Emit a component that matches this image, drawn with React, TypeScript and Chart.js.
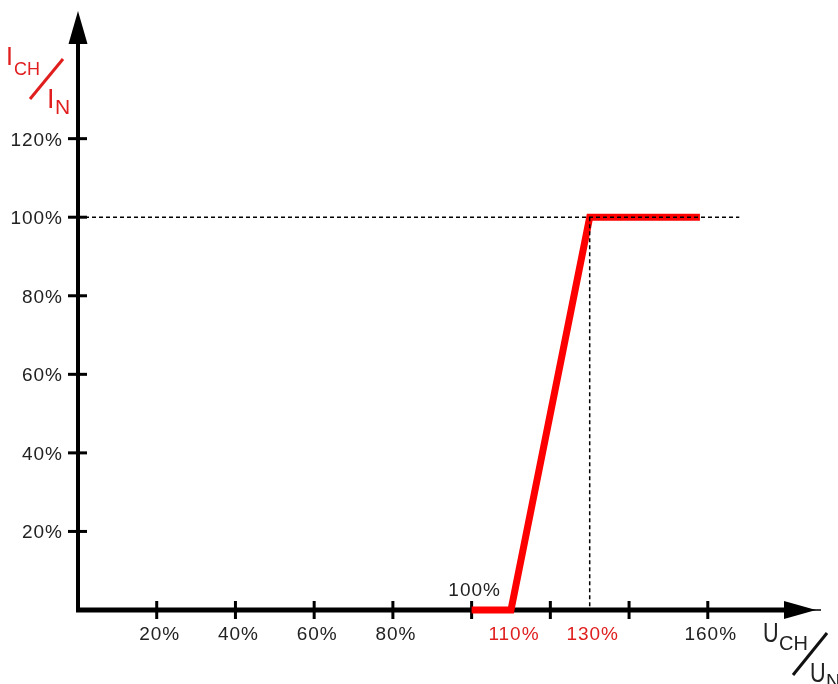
import React, { useEffect, useRef } from "react";
import { Chart, registerables } from "chart.js";

Chart.register(...registerables);

// ---- data ----
const X_MAX = 188;
const Y_MAX = 152.5;
const xTickValues = [20, 40, 60, 80, 100, 120, 140, 160];
const xLabelValues = [20, 40, 60, 80, 110, 130, 160];
const xLabelTexts = ["20%", "40%", "60%", "80%", "110%", "130%", "160%"];
const xLabelRed = [false, false, false, false, true, true, false];
const yTickValues = [20, 40, 60, 80, 100, 120];
const yLabelTexts = ["20%", "40%", "60%", "80%", "100%", "120%"];
const curveX = [100, 110, 130, 158];
const curveY = [0, 0, 100, 100];
const refLevel = 100;
const refX = 130;
const refLineEnd = 168;
const startValue = 100;
const startLabel = "100%";

const RED_LINE = "#ff0000";
const RED_TEXT = "#e01e1e";
const FONT = '"Liberation Sans", Arial, sans-serif';

const axesPlugin = {
  id: "customAxes",
  beforeDatasetsDraw(chart: any) {
    const ctx: CanvasRenderingContext2D = chart.ctx;
    const xs = chart.scales.x;
    const ys = chart.scales.y;
    const x0 = xs.getPixelForValue(0);
    const y0 = ys.getPixelForValue(0);
    const area = chart.chartArea;
    ctx.save();
    ctx.fillStyle = "#000";
    ctx.strokeStyle = "#000";
    // y axis line
    ctx.lineWidth = 4;
    ctx.beginPath();
    ctx.moveTo(x0, y0 + 2);
    ctx.lineTo(x0, area.top + 30);
    ctx.stroke();
    // y arrow
    ctx.beginPath();
    ctx.moveTo(x0, area.top);
    ctx.lineTo(x0 + 9.5, area.top + 33);
    ctx.lineTo(x0 - 9.5, area.top + 33);
    ctx.closePath();
    ctx.fill();
    // x axis line
    ctx.lineWidth = 5;
    ctx.beginPath();
    ctx.moveTo(x0 - 2, y0);
    ctx.lineTo(area.right - 30, y0);
    ctx.stroke();
    // x arrow
    ctx.beginPath();
    ctx.moveTo(area.right - 2, y0);
    ctx.lineTo(area.right - 34, y0 - 9);
    ctx.lineTo(area.right - 34, y0 + 9);
    ctx.closePath();
    ctx.fill();
    ctx.lineWidth = 1.5;
    ctx.beginPath();
    ctx.moveTo(area.right - 10, y0);
    ctx.lineTo(area.right + 3, y0);
    ctx.stroke();
    // x ticks
    ctx.lineWidth = 3;
    for (const v of xTickValues) {
      const px = xs.getPixelForValue(v);
      ctx.beginPath();
      ctx.moveTo(px, y0 - 9);
      ctx.lineTo(px, y0 + 9);
      ctx.stroke();
    }
    // y ticks
    for (const v of yTickValues) {
      const py = ys.getPixelForValue(v);
      ctx.beginPath();
      ctx.moveTo(x0 - 10, py);
      ctx.lineTo(x0 + 9, py);
      ctx.stroke();
    }
    // tick labels
    ctx.font = "19px " + FONT;
    (ctx as any).letterSpacing = "1px";
    ctx.textBaseline = "alphabetic";
    ctx.textAlign = "right";
    ctx.fillStyle = "#222";
    yTickValues.forEach((v, i) => {
      ctx.fillText(yLabelTexts[i], x0 - 15, ys.getPixelForValue(v) + 7);
    });
    ctx.textAlign = "center";
    xLabelValues.forEach((v, i) => {
      ctx.fillStyle = xLabelRed[i] ? RED_TEXT : "#222";
      ctx.fillText(xLabelTexts[i], xs.getPixelForValue(v) + 3, y0 + 30);
    });
    ctx.fillStyle = "#222";
    ctx.fillText(startLabel, xs.getPixelForValue(startValue) + 3, y0 - 14);

    // y axis title (red): I_CH / I_N
    (ctx as any).letterSpacing = "0px";
    ctx.textAlign = "left";
    ctx.fillStyle = RED_TEXT;
    ctx.font = "25px " + FONT;
    ctx.fillText("I", 6, 65);
    ctx.font = "18px " + FONT;
    ctx.fillText("CH", 14, 75);
    ctx.font = "27px " + FONT;
    ctx.fillText("I", 47, 108);
    ctx.font = "21px " + FONT;
    ctx.fillText("N", 55, 114);
    ctx.strokeStyle = RED_TEXT;
    ctx.lineWidth = 3;
    ctx.beginPath();
    ctx.moveTo(30, 99);
    ctx.lineTo(63, 59);
    ctx.stroke();

    // x axis title (black): U_CH / U_N
    ctx.fillStyle = "#222";
    ctx.save();
    ctx.translate(763, 642);
    ctx.scale(0.8, 1);
    ctx.font = "27px " + FONT;
    ctx.fillText("U", 0, 0);
    ctx.restore();
    ctx.font = "20px " + FONT;
    ctx.fillText("CH", 779, 650);
    ctx.save();
    ctx.translate(810, 682);
    ctx.scale(0.8, 1);
    ctx.font = "27px " + FONT;
    ctx.fillText("U", 0, 0);
    ctx.restore();
    ctx.font = "20px " + FONT;
    ctx.fillText("N", 826, 688);
    ctx.strokeStyle = "#111";
    ctx.lineWidth = 3;
    ctx.beginPath();
    ctx.moveTo(793, 675);
    ctx.lineTo(827, 633);
    ctx.stroke();
    ctx.restore();
  },
};

export default function App() {
  const ref = useRef<HTMLCanvasElement | null>(null);
  useEffect(() => {
    if (!ref.current) return;
    const chart = new Chart(ref.current, {
      type: "line",
      data: {
        datasets: [
          {
            data: [
              { x: 0, y: refLevel },
              { x: refLineEnd, y: refLevel },
            ],
            borderColor: "#000",
            borderWidth: 1.5,
            borderDash: [4, 3],
            pointRadius: 0,
            clip: false as any,
          },
          {
            data: [
              { x: refX, y: refLevel },
              { x: refX, y: 0 },
            ],
            borderColor: "#000",
            borderWidth: 1.5,
            borderDash: [4, 3],
            pointRadius: 0,
            clip: false as any,
          },
          {
            data: curveX.map((x, i) => ({ x, y: curveY[i] })),
            borderColor: RED_LINE,
            borderWidth: 7,
            borderJoinStyle: "miter",
            borderCapStyle: "butt",
            pointRadius: 0,
            tension: 0,
            clip: false as any,
          },
        ],
      },
      options: {
        animation: false,
        responsive: true,
        maintainAspectRatio: false,
        layout: { padding: { left: 78, right: 20, top: 11, bottom: 74 } },
        plugins: { legend: { display: false }, tooltip: { enabled: false } },
        scales: {
          x: { type: "linear", min: 0, max: X_MAX, display: false },
          y: { type: "linear", min: 0, max: Y_MAX, display: false },
        },
      },
      plugins: [axesPlugin],
    });
    return () => chart.destroy();
  }, []);
  return (
    <div
      style={{
        position: "fixed",
        left: 0,
        top: 0,
        width: 838,
        height: 684,
        background: "#fff",
      }}
    >
      <canvas ref={ref} style={{ width: "100%", height: "100%" }} />
    </div>
  );
}
